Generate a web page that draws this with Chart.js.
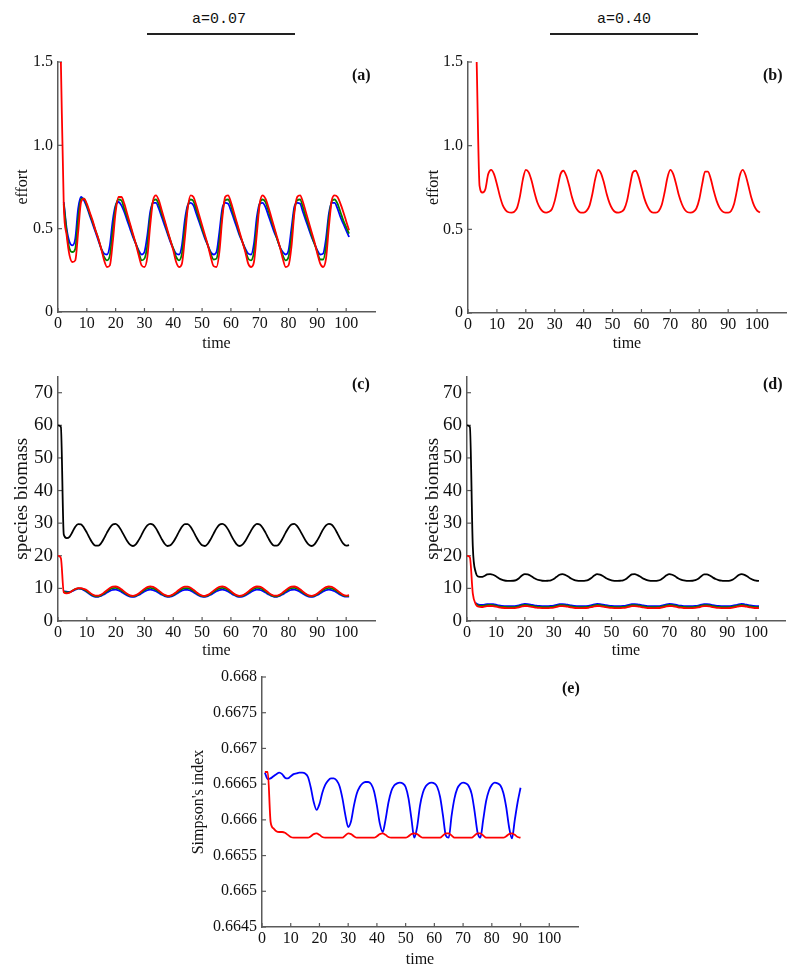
<!DOCTYPE html>
<html><head><meta charset="utf-8">
<script src="https://cdn.jsdelivr.net/npm/chart.js@4.4.1/dist/chart.umd.min.js"></script>
<style>
html,body{margin:0;padding:0;background:#fff;}
body{width:800px;height:977px;position:relative;overflow:hidden;}
.box{position:absolute;}
.hdr{position:absolute;font-family:"Liberation Mono",monospace;font-size:15px;line-height:18px;color:#111;}
.rule{position:absolute;height:2px;background:#222;}
.pl{position:absolute;font-family:"Liberation Serif",serif;font-weight:bold;font-size:16px;line-height:18px;color:#111;}
</style></head><body>
<div class="hdr" style="left:192px;top:11px">a=0.07</div>
<div class="rule" style="left:147px;top:33px;width:148px"></div>
<div class="hdr" style="left:597px;top:11px">a=0.40</div>
<div class="rule" style="left:550px;top:33px;width:148px"></div>

<div class="box" style="left:0px;top:40px"><canvas id="ca" width="400" height="320"></canvas></div>
<div class="box" style="left:400px;top:40px"><canvas id="cb" width="400" height="320"></canvas></div>
<div class="box" style="left:0px;top:360px"><canvas id="cc" width="400" height="300"></canvas></div>
<div class="box" style="left:400px;top:360px"><canvas id="cd" width="400" height="300"></canvas></div>
<div class="box" style="left:170px;top:660px"><canvas id="ce" width="430" height="317"></canvas></div>

<div class="pl" style="left:352px;top:66px">(a)</div>
<div class="pl" style="left:763px;top:66px">(b)</div>
<div class="pl" style="left:352px;top:375px">(c)</div>
<div class="pl" style="left:763px;top:375px">(d)</div>
<div class="pl" style="left:562px;top:679px">(e)</div>

<script>
// ---------- time axes ----------
const timeAB = [1,2,3,4,5,6,7,8,9,10,11,12,13,14,15,16,17,18,19,20,21,22,23,24,25,26,27,28,29,30,
31,32,33,34,35,36,37,38,39,40,41,42,43,44,45,46,47,48,49,50,51,52,53,54,55,56,57,58,59,60,
61,62,63,64,65,66,67,68,69,70,71,72,73,74,75,76,77,78,79,80,81,82,83,84,85,86,87,88,89,90,
91,92,93,94,95,96,97,98,99,100,101];
const timeCD = [0,1,2,3,4,5,6,7,8,9,10,11,12,13,14,15,16,17,18,19,20,21,22,23,24,25,26,27,28,29,30,
31,32,33,34,35,36,37,38,39,40,41,42,43,44,45,46,47,48,49,50,51,52,53,54,55,56,57,58,59,60,
61,62,63,64,65,66,67,68,69,70,71,72,73,74,75,76,77,78,79,80,81,82,83,84,85,86,87,88,89,90,
91,92,93,94,95,96,97,98,99,100,101];
const timeE = [1,2,3,4,5,6,7,8,9,10,11,12,13,14,15,16,17,18,19,20,21,22,23,24,25,26,27,28,29,30,
31,32,33,34,35,36,37,38,39,40,41,42,43,44,45,46,47,48,49,50,51,52,53,54,55,56,57,58,59,60,
61,62,63,64,65,66,67,68,69,70,71,72,73,74,75,76,77,78,79,80,81,82,83,84,85,86,87,88,89,90];

// ---------- tick labels ----------
const xTickLabels = ['0','10','20','30','40','50','60','70','80','90','100'];
const effortTicks = ['0','0.5','1.0','1.5'];
const biomassTicks = ['0','10','20','30','40','50','60','70'];
const simpsonTicks = ['0.6645','0.665','0.6655','0.666','0.6665','0.667','0.6675','0.668'];

// ---------- (a) effort, a=0.07 ----------
const effortA_red = [1.50,0.64,0.46,0.34,0.30,0.31,0.48,0.66,0.68,0.65,
0.60,0.55,0.49,0.44,0.38,0.31,0.27,0.28,0.42,0.60,
0.69,0.69,0.65,0.59,0.53,0.47,0.41,0.34,0.28,0.27,
0.33,0.52,0.67,0.70,0.67,0.61,0.55,0.49,0.43,0.37,
0.30,0.27,0.29,0.44,0.62,0.70,0.69,0.64,0.58,0.52,
0.46,0.40,0.33,0.275,0.27,0.36,0.56,0.69,0.70,0.66,
0.60,0.54,0.48,0.42,0.36,0.29,0.27,0.30,0.47,0.65,
0.70,0.68,0.63,0.57,0.51,0.45,0.39,0.32,0.27,0.28,
0.39,0.59,0.69,0.70,0.66,0.60,0.54,0.48,0.42,0.35,
0.29,0.27,0.32,0.51,0.67,0.70,0.69,0.65,0.60,0.545,
0.49];
const effortA_green = [null,0.65,0.48,0.38,0.36,0.38,0.56,0.68,0.68,0.64,
0.59,0.54,0.49,0.44,0.38,0.33,0.31,0.34,0.49,0.63,
0.675,0.67,0.62,0.57,0.52,0.46,0.41,0.36,0.31,0.32,
0.40,0.57,0.665,0.675,0.645,0.59,0.54,0.48,0.43,0.38,
0.33,0.31,0.35,0.50,0.63,0.675,0.665,0.615,0.56,0.50,
0.45,0.40,0.35,0.315,0.32,0.42,0.59,0.67,0.675,0.64,
0.58,0.53,0.47,0.42,0.37,0.32,0.31,0.36,0.52,0.65,
0.675,0.66,0.61,0.55,0.50,0.44,0.39,0.34,0.31,0.33,
0.45,0.61,0.67,0.675,0.63,0.57,0.52,0.46,0.41,0.36,
0.315,0.315,0.39,0.56,0.665,0.675,0.65,0.60,0.55,0.51,
0.47];
const effortA_blue = [null,0.66,0.50,0.42,0.40,0.44,0.62,0.69,0.67,0.63,
0.58,0.53,0.48,0.43,0.38,0.35,0.345,0.40,0.55,0.64,
0.66,0.64,0.60,0.55,0.50,0.45,0.41,0.37,0.345,0.36,
0.46,0.60,0.655,0.655,0.62,0.57,0.52,0.47,0.42,0.38,
0.35,0.345,0.40,0.55,0.64,0.655,0.64,0.59,0.54,0.49,
0.44,0.40,0.36,0.345,0.36,0.48,0.62,0.655,0.65,0.61,
0.56,0.51,0.46,0.42,0.38,0.35,0.345,0.41,0.57,0.65,
0.655,0.63,0.58,0.53,0.48,0.44,0.39,0.36,0.345,0.37,
0.50,0.63,0.655,0.65,0.60,0.55,0.50,0.45,0.41,0.37,
0.345,0.35,0.44,0.59,0.655,0.655,0.62,0.57,0.53,0.49,
0.45];

// ---------- (b) effort, a=0.40 ----------
const effortB_red = [null,null,1.50,0.76,0.72,0.74,0.83,0.855,0.83,0.77,
0.70,0.645,0.615,0.602,0.60,0.605,0.63,0.70,0.80,0.855,
0.84,0.79,0.72,0.66,0.625,0.605,0.60,0.605,0.62,0.67,
0.75,0.83,0.85,0.82,0.76,0.69,0.64,0.612,0.60,0.60,
0.61,0.64,0.71,0.80,0.855,0.835,0.78,0.71,0.655,0.62,
0.603,0.60,0.605,0.62,0.67,0.76,0.84,0.85,0.815,0.75,
0.685,0.64,0.61,0.60,0.60,0.61,0.645,0.72,0.81,0.855,
0.83,0.77,0.70,0.65,0.617,0.602,0.60,0.605,0.625,0.68,
0.77,0.845,0.845,0.80,0.73,0.67,0.63,0.607,0.60,0.60,
0.61,0.65,0.73,0.82,0.855,0.825,0.76,0.69,0.64,0.612,
0.60];

// ---------- (c) species biomass, a=0.07 ----------
const biomassC_black = [60,59.5,26.5,25.4,25.8,27.3,28.9,29.7,29.6,28.6,
27.1,25.4,23.9,23.1,23.1,23.9,25.4,27.1,28.6,29.6,
29.8,29.1,27.7,26.1,24.5,23.4,23.0,23.5,24.8,26.4,
28.1,29.3,29.8,29.5,28.4,26.8,25.1,23.7,23.0,23.2,
24.2,25.7,27.4,28.9,29.7,29.7,28.9,27.4,25.7,24.2,
23.2,23.0,23.7,25.1,26.8,28.4,29.5,29.8,29.3,28.1,
26.4,24.8,23.5,23.0,23.4,24.5,26.1,27.7,29.1,29.8,
29.6,28.6,27.1,25.4,23.9,23.1,23.1,23.9,25.4,27.1,
28.6,29.6,29.8,29.1,27.7,26.1,24.5,23.4,23.0,23.5,
24.8,26.4,28.1,29.3,29.8,29.5,28.4,26.8,25.1,23.7,
23.1,23.3];
const biomassC_red = [20,19.3,8.8,8.5,8.7,9.3,9.8,10.1,10.05,9.8,
9.44,8.72,8.1,7.75,7.75,8.1,8.72,9.44,10.1,10.51,
10.58,10.3,9.72,9.0,8.32,7.85,7.7,7.92,8.45,9.15,
9.85,10.38,10.6,10.45,9.98,9.3,8.58,8.0,7.72,7.79,
8.21,8.86,9.59,10.2,10.55,10.55,10.2,9.59,8.86,8.21,
7.79,7.72,8.0,8.58,9.3,9.98,10.45,10.6,10.38,9.85,
9.15,8.45,7.92,7.7,7.85,8.32,9.0,9.72,10.3,10.58,
10.51,10.1,9.44,8.72,8.1,7.75,7.75,8.1,8.72,9.44,
10.1,10.51,10.58,10.3,9.72,9.0,8.32,7.85,7.7,7.92,
8.45,9.15,9.85,10.38,10.6,10.45,9.98,9.3,8.58,8.0,
7.8,7.9];
const biomassC_green = [null,null,9.0,8.8,8.8,9.3,9.75,10.0,9.95,9.7,
9.11,8.46,7.91,7.59,7.59,7.91,8.46,9.11,9.7,10.07,
10.13,9.88,9.36,8.72,8.11,7.68,7.55,7.75,8.22,8.85,
9.48,9.96,10.15,10.02,9.59,8.98,8.34,7.82,7.57,7.63,
8.0,8.59,9.24,9.79,10.11,10.11,9.79,9.24,8.59,8.0,
7.63,7.57,7.82,8.34,8.98,9.59,10.02,10.15,9.96,9.48,
8.85,8.22,7.75,7.55,7.68,8.11,8.72,9.36,9.88,10.13,
10.07,9.7,9.11,8.46,7.91,7.59,7.59,7.91,8.46,9.11,
9.7,10.07,10.13,9.88,9.36,8.72,8.11,7.68,7.55,7.75,
8.22,8.85,9.48,9.96,10.15,10.02,9.59,8.98,8.34,7.82,
7.6,7.7];
const biomassC_blue = [null,null,9.1,9.0,8.9,9.2,9.6,9.9,9.85,9.45,
8.9,8.25,7.7,7.44,7.44,7.7,8.17,8.72,9.22,9.53,
9.59,9.37,8.93,8.39,7.87,7.51,7.4,7.57,7.97,8.5,
9.03,9.44,9.6,9.49,9.13,8.61,8.07,7.63,7.41,7.47,
7.78,8.28,8.83,9.3,9.56,9.56,9.3,8.83,8.28,7.78,
7.47,7.41,7.63,8.07,8.61,9.13,9.49,9.6,9.44,9.03,
8.5,7.97,7.57,7.4,7.51,7.87,8.39,8.93,9.37,9.59,
9.53,9.22,8.72,8.17,7.7,7.44,7.44,7.7,8.17,8.72,
9.22,9.53,9.59,9.37,8.93,8.39,7.87,7.51,7.4,7.57,
7.97,8.5,9.03,9.44,9.6,9.49,9.13,8.61,8.07,7.63,
7.45,7.5];

// ---------- (d) species biomass, a=0.40 ----------
const biomassD_black = [60,59.5,23,15,13.6,13.5,13.8,14.3,14.4,14.19,
13.71,13.12,12.67,12.42,12.32,12.3,12.34,12.55,13.12,13.94,
14.4,14.27,13.86,13.29,12.79,12.51,12.34,12.3,12.34,12.46,
12.87,13.54,14.19,14.36,14.11,13.62,13.04,12.63,12.4,12.3,
12.3,12.38,12.63,13.2,13.94,14.4,14.23,13.79,13.2,12.75,
12.46,12.33,12.3,12.34,12.46,12.87,13.62,14.27,14.36,14.06,
13.54,12.99,12.63,12.38,12.3,12.3,12.38,12.67,13.29,14.02,
14.4,14.19,13.71,13.12,12.71,12.44,12.32,12.3,12.34,12.51,
12.95,13.71,14.32,14.32,13.94,13.37,12.87,12.55,12.36,12.3,
12.3,12.38,12.71,13.37,14.11,14.4,14.15,13.62,13.04,12.63,
12.4,12.3];
const biomassD_red = [20,19.5,8.5,5.2,4.4,4.3,4.4,4.55,4.6,4.54,
4.39,4.2,4.06,3.99,3.96,3.95,3.96,4.03,4.2,4.46,
4.6,4.56,4.43,4.26,4.1,4.01,3.96,3.95,3.96,4.0,
4.13,4.33,4.54,4.59,4.51,4.36,4.18,4.05,3.98,3.95,
3.95,3.98,4.05,4.23,4.46,4.6,4.55,4.41,4.23,4.09,
4.0,3.96,3.95,3.96,4.0,4.13,4.36,4.56,4.59,4.5,
4.33,4.16,4.05,3.98,3.95,3.95,3.98,4.06,4.26,4.48,
4.6,4.54,4.39,4.2,4.08,3.99,3.96,3.95,3.96,4.01,
4.15,4.39,4.57,4.57,4.46,4.28,4.13,4.03,3.97,3.95,
3.95,3.98,4.08,4.28,4.51,4.6,4.52,4.36,4.18,4.05,
3.98,3.95];
const biomassD_green = [null,null,null,5.3,4.7,4.6,4.7,4.85,4.9,4.84,
4.69,4.5,4.36,4.29,4.26,4.25,4.26,4.33,4.5,4.76,
4.9,4.86,4.73,4.56,4.4,4.31,4.26,4.25,4.26,4.3,
4.43,4.63,4.84,4.89,4.81,4.66,4.48,4.35,4.28,4.25,
4.25,4.28,4.35,4.53,4.76,4.9,4.85,4.71,4.53,4.39,
4.3,4.26,4.25,4.26,4.3,4.43,4.66,4.86,4.89,4.8,
4.63,4.46,4.35,4.28,4.25,4.25,4.28,4.36,4.56,4.78,
4.9,4.84,4.69,4.5,4.38,4.29,4.26,4.25,4.26,4.31,
4.45,4.69,4.87,4.87,4.76,4.58,4.43,4.33,4.27,4.25,
4.25,4.28,4.38,4.58,4.81,4.9,4.82,4.66,4.48,4.35,
4.28,4.25];
const biomassD_blue = [null,null,null,5.5,5.0,4.9,5.0,5.15,5.2,5.15,
5.0,4.8,4.66,4.59,4.56,4.55,4.56,4.63,4.8,5.07,
5.22,5.17,5.04,4.86,4.7,4.61,4.56,4.55,4.56,4.6,
4.73,4.94,5.15,5.2,5.12,4.96,4.78,4.65,4.58,4.55,
4.55,4.58,4.65,4.84,5.07,5.22,5.16,5.02,4.84,4.69,
4.6,4.56,4.55,4.56,4.6,4.73,4.96,5.17,5.2,5.11,
4.94,4.76,4.65,4.58,4.55,4.55,4.58,4.66,4.86,5.09,
5.22,5.15,5.0,4.8,4.68,4.59,4.56,4.55,4.56,4.61,
4.75,5.0,5.18,5.18,5.07,4.88,4.73,4.63,4.57,4.55,
4.55,4.58,4.68,4.88,5.12,5.22,5.13,4.96,4.78,4.65,
4.58,4.55];

// ---------- (e) Simpson's index ----------
const simpsonBlue = [0.66666,0.66657,0.66658,0.66661,0.66664,0.66666,0.66664,0.66659,0.66658,0.66661,
0.66664,0.66665,0.66666,0.66666,0.66665,0.66660,0.66645,0.66625,0.66614,0.66622,
0.66638,0.66649,0.66655,0.66658,0.66658,0.66655,0.66647,0.66630,0.66607,0.66590,
0.66598,0.66620,0.66637,0.66646,0.66651,0.66653,0.66653,0.66650,0.66640,0.66620,
0.66595,0.66583,0.66600,0.66624,0.66640,0.66648,0.66651,0.66652,0.66651,0.66646,
0.66630,0.66602,0.66575,0.66590,0.66620,0.66638,0.66647,0.66651,0.66652,0.66651,
0.66646,0.66632,0.66606,0.66578,0.66575,0.66606,0.66630,0.66644,0.66650,0.66652,
0.66651,0.66647,0.66636,0.66612,0.66583,0.66575,0.66600,0.66626,0.66641,0.66649,
0.66652,0.66651,0.66648,0.66638,0.66618,0.66590,0.66574,0.66600,0.66625,0.66645];
const simpsonRed = [0.66667,0.66667,0.66597,0.66588,0.66584,0.66583,0.66583,0.66582,0.66579,0.66576,
0.66575,0.66575,0.66575,0.66575,0.66575,0.66575,0.66577,0.66580,0.66581,0.66579,
0.66576,0.66575,0.66575,0.66575,0.66575,0.66575,0.66575,0.66575,0.66578,0.66581,
0.66580,0.66577,0.66575,0.66575,0.66575,0.66575,0.66575,0.66575,0.66575,0.66577,
0.66580,0.66581,0.66579,0.66576,0.66575,0.66575,0.66575,0.66575,0.66575,0.66575,
0.66577,0.66580,0.66581,0.66580,0.66577,0.66575,0.66575,0.66575,0.66575,0.66575,
0.66575,0.66575,0.66578,0.66581,0.66581,0.66578,0.66575,0.66575,0.66575,0.66575,
0.66575,0.66575,0.66575,0.66578,0.66581,0.66581,0.66578,0.66575,0.66575,0.66575,
0.66575,0.66575,0.66575,0.66575,0.66577,0.66580,0.66581,0.66579,0.66576,0.66575];

// ---------- drawing ----------
const FONT = 'Liberation Serif';
const AXIS = '#5a5a5a';
const RED = '#ff0000', GREEN = '#008000', BLUE = '#0000ff', BLACK = '#000000';

function pts(t, v){ return t.map((x,i)=>({x:x, y:v[i]})); }
function ds(t, v, color){
  return {data: pts(t,v), borderColor: color, borderWidth: 1.8, pointRadius: 0,
          fill: false, cubicInterpolationMode: 'monotone', spanGaps: false};
}

const inwardTicks = {
  id: 'inwardTicks',
  beforeDatasetsDraw(chart){
    const ctx = chart.ctx, a = chart.chartArea, xs = chart.scales.x, ys = chart.scales.y;
    ctx.save();
    ctx.strokeStyle = AXIS; ctx.lineWidth = 1.2;
    xs.ticks.forEach(t => { const px = xs.getPixelForValue(t.value);
      ctx.beginPath(); ctx.moveTo(px, a.bottom); ctx.lineTo(px, a.bottom - 4); ctx.stroke(); });
    ys.ticks.forEach(t => { const py = ys.getPixelForValue(t.value);
      ctx.beginPath(); ctx.moveTo(a.left, py); ctx.lineTo(a.left + 4, py); ctx.stroke(); });
    ctx.restore();
  }
};

function panel(id, p){
  const xVals = xTickLabels.map(Number);
  const yVals = p.yLabels.map(Number);
  return new Chart(document.getElementById(id), {
    type: 'line',
    data: {datasets: p.datasets},
    options: {
      responsive: false, animation: false, events: [],
      layout: {padding: {top: p.padTop, right: p.padRight, bottom: 0, left: 0}},
      plugins: {legend: {display: false}, tooltip: {enabled: false}},
      scales: {
        x: {
          type: 'linear', min: 0, max: 110,
          afterBuildTicks: s => { s.ticks = xVals.map(v => ({value: v})); },
          afterFit: s => { s.height = p.xHeight; },
          ticks: {autoSkip: false, maxRotation: 0, padding: 2, color: '#111',
                  font: {family: FONT, size: 16},
                  callback: (v, i) => xTickLabels[i]},
          grid: {display: false, drawTicks: false},
          border: {display: true, color: AXIS, width: 1.5},
          title: {display: true, text: 'time', color: '#111',
                  font: {family: FONT, size: 16, lineHeight: 1},
                  padding: {top: p.xTitlePad, bottom: p.xTitlePad}}
        },
        y: {
          type: 'linear', min: p.yMin, max: p.yMax,
          afterBuildTicks: s => { s.ticks = yVals.map(v => ({value: v})); },
          afterFit: s => { s.width = p.yWidth; },
          ticks: {autoSkip: false, padding: 5, color: '#111',
                  font: {family: FONT, size: p.yFont},
                  callback: (v, i) => p.yLabels[i]},
          grid: {display: false, drawTicks: false},
          border: {display: true, color: AXIS, width: 1.5},
          title: {display: true, text: p.yTitle, color: '#111',
                  font: {family: FONT, size: p.yTitleFont, lineHeight: 1},
                  padding: {top: p.yTitlePad, bottom: p.yTitlePad}}
        }
      }
    },
    plugins: [inwardTicks]
  });
}

panel('ca', {
  datasets: [ds(timeAB, effortA_red, RED), ds(timeAB, effortA_green, GREEN), ds(timeAB, effortA_blue, BLUE)],
  padTop: 22, padRight: 25, xHeight: 48, yWidth: 58, xTitlePad: 8, yTitlePad: 14.5,
  yFont: 16, yTitleFont: 16,
  yMin: 0, yMax: 1.5, yLabels: effortTicks, yTitle: 'effort'
});
panel('cb', {
  datasets: [ds(timeAB, effortB_red, RED)],
  padTop: 22, padRight: 14, xHeight: 47, yWidth: 68, xTitlePad: 8, yTitlePad: 25.5,
  yFont: 16, yTitleFont: 16,
  yMin: 0, yMax: 1.5, yLabels: effortTicks, yTitle: 'effort'
});
panel('cc', {
  datasets: [ds(timeCD, biomassC_red, RED), ds(timeCD, biomassC_green, GREEN), ds(timeCD, biomassC_blue, BLUE), ds(timeCD, biomassC_black, BLACK)],
  padTop: 10, padRight: 25, xHeight: 39, yWidth: 58, xTitlePad: 1, yTitlePad: 13,
  yFont: 19, yTitleFont: 19,
  yMin: 0, yMax: 75, yLabels: biomassTicks, yTitle: 'species biomass'
});
panel('cd', {
  datasets: [ds(timeCD, biomassD_red, RED), ds(timeCD, biomassD_green, GREEN), ds(timeCD, biomassD_blue, BLUE), ds(timeCD, biomassD_black, BLACK)],
  padTop: 10, padRight: 15, xHeight: 39, yWidth: 67, xTitlePad: 1, yTitlePad: 24,
  yFont: 19, yTitleFont: 19,
  yMin: 0, yMax: 75, yLabels: biomassTicks, yTitle: 'species biomass'
});
panel('ce', {
  datasets: [ds(timeE, simpsonRed, RED), ds(timeE, simpsonBlue, BLUE)],
  padTop: 17, padRight: 22, xHeight: 50, yWidth: 92, xTitlePad: 9, yTitlePad: 20.5,
  yFont: 16, yTitleFont: 16,
  yMin: 0.6645, yMax: 0.668, yLabels: simpsonTicks, yTitle: "Simpson's index"
});
</script>
</body></html>
